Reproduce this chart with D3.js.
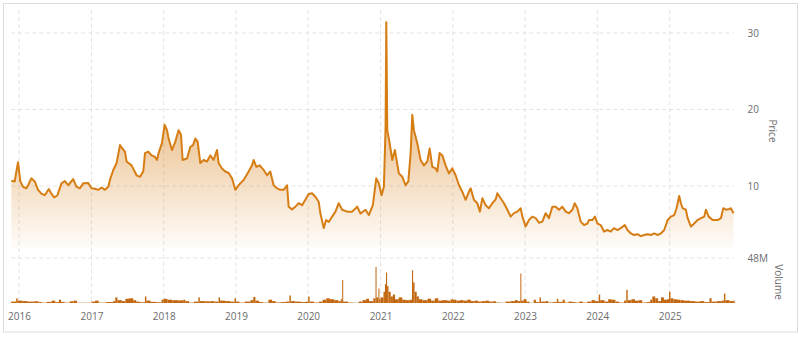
<!DOCTYPE html>
<html>
<head>
<meta charset="utf-8">
<script src="https://cdn.jsdelivr.net/npm/d3@7"></script>
<style>
  html, body { margin: 0; padding: 0; background: #fff; }
  svg { display: block; font-family: "Open Sans", sans-serif; }
</style>
</head>
<body>
<div id="chart"></div>
<script>
// --- data (times are decimal years) ----------------------------------------
const priceYears = [
  2015.893, 2015.940, 2015.986, 2016.018, 2016.055, 2016.101, 2016.125, 2016.170, 2016.217, 2016.263,
  2016.309, 2016.356, 2016.411, 2016.447, 2016.485, 2016.530, 2016.586, 2016.633, 2016.679, 2016.748,
  2016.794, 2016.841, 2016.886, 2016.956, 2017.001, 2017.048, 2017.094, 2017.140, 2017.187, 2017.233,
  2017.256, 2017.302, 2017.348, 2017.395, 2017.427, 2017.464, 2017.486, 2017.555, 2017.625, 2017.672,
  2017.717, 2017.741, 2017.787, 2017.832, 2017.880, 2017.907, 2017.929, 2017.976, 2018.012, 2018.046,
  2018.068, 2018.115, 2018.161, 2018.206, 2018.240, 2018.262, 2018.323, 2018.368, 2018.406, 2018.438,
  2018.470, 2018.507, 2018.553, 2018.600, 2018.645, 2018.691, 2018.738, 2018.760, 2018.807, 2018.853,
  2018.899, 2018.946, 2018.992, 2019.037, 2019.107, 2019.176, 2019.223, 2019.245, 2019.283, 2019.328,
  2019.384, 2019.431, 2019.476, 2019.522, 2019.569, 2019.615, 2019.661, 2019.708, 2019.730, 2019.777,
  2019.823, 2019.868, 2019.916, 2019.961, 2020.007, 2020.054, 2020.100, 2020.145, 2020.169, 2020.215,
  2020.248, 2020.284, 2020.331, 2020.377, 2020.422, 2020.470, 2020.539, 2020.608, 2020.677, 2020.723,
  2020.792, 2020.838, 2020.893, 2020.940, 2020.976, 2021.014, 2021.046, 2021.069, 2021.079, 2021.093,
  2021.115, 2021.162, 2021.198, 2021.253, 2021.301, 2021.346, 2021.384, 2021.416, 2021.439, 2021.461,
  2021.508, 2021.554, 2021.600, 2021.647, 2021.679, 2021.716, 2021.762, 2021.785, 2021.817, 2021.855,
  2021.900, 2021.946, 2021.993, 2022.039, 2022.085, 2022.132, 2022.177, 2022.223, 2022.247, 2022.292,
  2022.339, 2022.375, 2022.409, 2022.454, 2022.500, 2022.547, 2022.593, 2022.616, 2022.662, 2022.708,
  2022.755, 2022.801, 2022.846, 2022.893, 2022.939, 2022.963, 2023.008, 2023.054, 2023.101, 2023.147,
  2023.193, 2023.240, 2023.285, 2023.331, 2023.378, 2023.424, 2023.470, 2023.517, 2023.562, 2023.608,
  2023.655, 2023.687, 2023.724, 2023.770, 2023.816, 2023.863, 2023.885, 2023.932, 2023.968, 2024.001,
  2024.047, 2024.093, 2024.140, 2024.186, 2024.231, 2024.278, 2024.324, 2024.380, 2024.417, 2024.463,
  2024.508, 2024.555, 2024.601, 2024.647, 2024.694, 2024.740, 2024.785, 2024.832, 2024.878, 2024.924,
  2024.971, 2025.017, 2025.062, 2025.095, 2025.131, 2025.155, 2025.179, 2025.224, 2025.248, 2025.294,
  2025.339, 2025.386, 2025.432, 2025.478, 2025.501, 2025.539, 2025.594, 2025.663, 2025.709, 2025.741,
  2025.778, 2025.817, 2025.847, 2025.883
];
const priceValues = [
  10.7, 10.6, 13.1, 10.6, 9.9, 9.7, 10.1, 11.0, 10.6, 9.5,
  9.0, 8.8, 9.6, 9.0, 8.5, 8.8, 10.35, 10.65, 10.1, 10.9,
  9.9, 9.7, 10.35, 10.4, 9.7, 9.65, 9.5, 9.8, 9.5, 9.9,
  10.8, 12.1, 13.0, 15.35, 14.9, 14.5, 13.2, 12.7, 11.4, 11.2,
  11.9, 14.3, 14.5, 14.0, 13.8, 13.4, 14.3, 15.6, 18.0, 17.3,
  16.2, 14.7, 15.8, 17.3, 16.7, 13.4, 13.6, 15.1, 15.35, 16.2,
  15.8, 13.0, 13.4, 13.2, 14.0, 13.4, 14.7, 13.0, 12.3, 11.9,
  11.7, 11.0, 9.5, 10.1, 10.8, 11.9, 12.7, 13.4, 12.5, 12.7,
  12.1, 11.4, 11.9, 10.1, 9.7, 9.5, 9.5, 10.1, 7.3, 6.95,
  7.3, 7.75, 7.5, 8.2, 8.95, 9.05, 8.6, 7.95, 6.4, 4.5,
  5.55, 5.3, 6.0, 6.65, 7.75, 6.9, 6.65, 6.65, 7.3, 6.4,
  6.9, 6.2, 7.5, 11.0, 10.35, 8.8, 9.9, 17.75, 31.4, 17.3,
  16.2, 13.4, 14.7, 11.65, 11.2, 10.1, 10.6, 14.3, 19.3, 17.3,
  15.6, 13.4, 12.7, 13.2, 14.9, 12.5, 12.3, 11.9, 14.3, 14.0,
  12.7, 11.65, 12.3, 11.4, 10.1, 9.25, 8.2, 9.25, 9.7, 8.2,
  7.75, 6.65, 8.4, 7.5, 7.1, 7.75, 8.25, 9.05, 8.4, 7.75,
  6.9, 6.0, 6.45, 6.65, 7.1, 6.0, 4.7, 5.55, 6.0, 5.8,
  5.2, 5.35, 6.45, 5.8, 7.3, 7.3, 6.9, 7.3, 6.65, 6.45,
  6.9, 7.75, 7.1, 5.35, 4.9, 5.1, 5.55, 5.55, 6.0, 5.1,
  4.9, 4.05, 4.25, 4.05, 4.5, 4.25, 4.5, 4.9, 4.25, 3.8,
  3.6, 3.7, 3.45, 3.6, 3.7, 3.6, 3.8, 3.6, 3.8, 4.25,
  5.55, 6.0, 6.2, 7.1, 8.7, 7.75, 7.1, 6.9, 5.8, 4.7,
  5.1, 5.55, 5.8, 6.0, 6.9, 6.0, 5.55, 5.55, 5.8, 7.1,
  6.9, 6.95, 7.1, 6.45
];

const volumeYears = [
  2015.89, 2015.96, 2015.98, 2016.05, 2016.12, 2016.20, 2016.27, 2016.32, 2016.38, 2016.45,
  2016.50, 2016.55, 2016.58, 2016.63, 2016.70, 2016.75, 2016.80, 2016.90, 2017.00, 2017.05,
  2017.10, 2017.20, 2017.30, 2017.33, 2017.36, 2017.42, 2017.47, 2017.52, 2017.58, 2017.62,
  2017.67, 2017.74, 2017.76, 2017.82, 2017.90, 2017.97, 2018.00, 2018.05, 2018.12, 2018.20,
  2018.27, 2018.30, 2018.35, 2018.42, 2018.48, 2018.50, 2018.58, 2018.65, 2018.70, 2018.76,
  2018.78, 2018.85, 2018.92, 2018.98, 2019.00, 2019.05, 2019.12, 2019.20, 2019.24, 2019.27,
  2019.32, 2019.38, 2019.45, 2019.50, 2019.55, 2019.62, 2019.69, 2019.74, 2019.76, 2019.82,
  2019.90, 2019.97, 2020.00, 2020.02, 2020.08, 2020.15, 2020.20, 2020.25, 2020.30, 2020.36,
  2020.42, 2020.45, 2020.47, 2020.48, 2020.55, 2020.62, 2020.70, 2020.75, 2020.80, 2020.84,
  2020.90, 2020.93, 2020.94, 2020.97, 2020.98, 2021.00, 2021.04, 2021.06, 2021.075, 2021.09,
  2021.11, 2021.14, 2021.17, 2021.20, 2021.25, 2021.30, 2021.35, 2021.40, 2021.435, 2021.45,
  2021.47, 2021.50, 2021.53, 2021.58, 2021.65, 2021.70, 2021.75, 2021.80, 2021.85, 2021.92,
  2021.97, 2022.00, 2022.05, 2022.10, 2022.15, 2022.20, 2022.25, 2022.30, 2022.35, 2022.40,
  2022.45, 2022.50, 2022.55, 2022.60, 2022.67, 2022.73, 2022.80, 2022.86, 2022.90, 2022.935,
  2022.945, 2022.98, 2023.02, 2023.06, 2023.12, 2023.15, 2023.20, 2023.22, 2023.28, 2023.32,
  2023.38, 2023.44, 2023.46, 2023.52, 2023.55, 2023.60, 2023.65, 2023.70, 2023.75, 2023.80,
  2023.86, 2023.92, 2023.97, 2024.02, 2024.04, 2024.10, 2024.15, 2024.20, 2024.25, 2024.30,
  2024.37, 2024.40, 2024.42, 2024.47, 2024.52, 2024.57, 2024.62, 2024.68, 2024.73, 2024.76,
  2024.80, 2024.84, 2024.88, 2024.92, 2024.96, 2024.99, 2025.01, 2025.05, 2025.10, 2025.15,
  2025.20, 2025.28, 2025.35, 2025.42, 2025.48, 2025.55, 2025.58, 2025.65, 2025.72, 2025.75,
  2025.77, 2025.83, 2025.88
];
const volumeMillions = [
  1.5, 5.0, 2.5, 2.0, 1.5, 1.8, 1.0, 0.4, 1.2, 2.5,
  1.0, 3.5, 1.2, 0.4, 1.8, 2.5, 0.3, 0.3, 1.5, 2.5,
  0.4, 1.0, 2.0, 6.0, 3.0, 2.0, 4.5, 5.0, 3.0, 1.5,
  0.8, 7.0, 2.5, 1.2, 0.8, 3.5, 4.5, 3.5, 3.0, 2.8,
  3.5, 2.0, 0.5, 1.5, 6.0, 2.0, 1.8, 2.0, 1.5, 6.0,
  2.5, 2.0, 1.5, 5.0, 1.5, 0.4, 1.5, 3.0, 6.5, 2.5,
  1.0, 0.4, 3.5, 2.0, 0.6, 1.0, 1.5, 8.0, 2.0, 1.5,
  1.0, 1.5, 7.0, 1.5, 0.5, 1.5, 3.5, 5.0, 4.0, 3.0,
  2.0, 4.0, 24.5, 1.5, 0.5, 0.3, 1.5, 3.0, 4.5, 2.0,
  5.0, 38.5, 6.0, 15.5, 4.0, 6.0, 12.0, 20.0, 32.5, 18.0,
  12.0, 7.0, 9.0, 4.0, 6.0, 3.5, 3.0, 3.5, 35.0, 22.0,
  12.0, 7.0, 4.0, 3.0, 4.5, 2.5, 5.0, 2.5, 3.0, 2.5,
  4.0, 3.5, 2.5, 3.0, 2.5, 3.5, 2.0, 2.5, 1.5, 2.0,
  2.5, 1.5, 1.8, 0.5, 0.3, 1.5, 2.0, 3.0, 2.0, 31.5,
  2.5, 4.0, 1.5, 0.3, 3.5, 1.0, 6.0, 1.5, 2.0, 0.6,
  1.0, 4.5, 1.2, 3.5, 0.5, 1.5, 1.0, 0.5, 1.5, 0.4,
  1.5, 3.0, 2.0, 9.0, 3.0, 1.5, 4.0, 3.5, 1.5, 0.5,
  2.5, 14.0, 3.0, 4.0, 2.5, 3.0, 0.5, 1.0, 3.5, 7.0,
  5.0, 2.0, 6.0, 3.5, 4.0, 12.0, 5.0, 4.0, 3.5, 3.0,
  2.5, 2.0, 1.5, 2.0, 1.0, 5.0, 1.5, 2.0, 2.5, 10.0,
  3.0, 2.0, 2.5
];

const priceTicks = [10, 20, 30];
const volumeTicks = [48];

// --- helpers ----------------------------------------------------------------
function toDate(t) {
    const y = Math.floor(t);
    const a = new Date(y, 0, 1), b = new Date(y + 1, 0, 1);
    return new Date(+a + (t - y) * (b - a));
}

const prices  = priceYears.map((t, i) => ({ date: toDate(t), value: priceValues[i] }));
const volumes = volumeYears.map((t, i) => ({ date: toDate(t), value: volumeMillions[i] }));

// --- layout -------------------------------------------------------------------
const width = 800, height = 337;
const plotLeft = 11.3, plotRight = 733.5;
const priceTop = 10, priceBottom = 248;
const volTop = 258, volBottom = 303;

const lineColor = "#d67d14";
const volColor  = "#c2670f";
const gridColor = "#e3e3e3";
const textColor = "#6b6b6b";

const svg = d3.select("#chart")
    .append("svg")
        .attr("width", width)
        .attr("height", height)
        .attr("viewBox", `0 0 ${width} ${height}`);

svg.append("rect")
    .attr("x", 3.5).attr("y", 3.5)
    .attr("width", 794).attr("height", 328.5)
    .attr("fill", "none")
    .attr("stroke", "#dcdcdc");

const x = d3.scaleTime()
    .domain(d3.extent(prices, d => d.date))
    .range([plotLeft, plotRight]);

const yPrice = d3.scaleLinear()
    .domain([1.9, 33])
    .range([priceBottom, priceTop]);

const yVol = d3.scaleLinear()
    .domain([0, 48])
    .range([volBottom, volTop]);

// gradient under the price line
const defs = svg.append("defs");
const grad = defs.append("linearGradient")
    .attr("id", "priceFill")
    .attr("gradientUnits", "userSpaceOnUse")
    .attr("x1", 0).attr("x2", 0)
    .attr("y1", priceTop).attr("y2", 255);
grad.append("stop").attr("offset", "0%")
    .attr("stop-color", lineColor).attr("stop-opacity", 0.85);
grad.append("stop").attr("offset", "100%")
    .attr("stop-color", lineColor).attr("stop-opacity", 0);

// --- grid ---------------------------------------------------------------------
const years = x.ticks(d3.timeYear.every(1));

svg.append("g")
    .selectAll("line")
    .data(years)
    .join("line")
        .attr("x1", d => x(d)).attr("x2", d => x(d))
        .attr("y1", priceTop).attr("y2", volBottom)
        .attr("stroke", gridColor)
        .attr("stroke-dasharray", "4,3");

svg.append("g")
    .selectAll("line")
    .data(priceTicks.map(yPrice).concat(volumeTicks.map(yVol)))
    .join("line")
        .attr("x1", plotLeft).attr("x2", plotRight)
        .attr("y1", d => d).attr("y2", d => d)
        .attr("stroke", gridColor)
        .attr("stroke-dasharray", "4,3");

// --- price area + line ------------------------------------------------------
svg.append("path")
    .datum(prices)
    .attr("fill", "url(#priceFill)")
    .attr("d", d3.area()
        .x(d => x(d.date))
        .y0(priceBottom)
        .y1(d => yPrice(d.value)));

svg.append("path")
    .datum(prices)
    .attr("fill", "none")
    .attr("stroke", lineColor)
    .attr("stroke-width", 2)
    .attr("stroke-linejoin", "round")
    .attr("d", d3.line()
        .x(d => x(d.date))
        .y(d => yPrice(d.value)));

// --- volume bars --------------------------------------------------------------
svg.append("g")
    .selectAll("rect")
    .data(volumes)
    .join("rect")
        .attr("x", d => x(d.date))
        .attr("width", (d, i) => i < volumes.length - 1
            ? Math.max(1, x(volumes[i + 1].date) - x(d.date)) : 1.5)
        .attr("y", d => yVol(d.value))
        .attr("height", d => volBottom - yVol(d.value))
        .attr("fill", volColor);

// --- axes ---------------------------------------------------------------------
const xAxis = svg.append("g")
    .attr("transform", `translate(0, ${309.5})`)
    .call(d3.axisBottom(x)
        .tickValues(years)
        .tickFormat(d3.timeFormat("%Y"))
        .tickSize(0)
        .tickPadding(3));

const priceAxis = svg.append("g")
    .attr("transform", "translate(747.5, 0)")
    .call(d3.axisRight(yPrice).tickValues(priceTicks).tickSize(0).tickPadding(0));

const volAxis = svg.append("g")
    .attr("transform", "translate(747.5, 0)")
    .call(d3.axisRight(yVol).tickValues(volumeTicks)
        .tickFormat(d => d + "M").tickSize(0).tickPadding(0));

[xAxis, priceAxis, volAxis].forEach(g => {
    g.select(".domain").remove();
    g.selectAll("text")
        .attr("fill", textColor)
        .style("font-family", "'Open Sans', sans-serif")
        .style("font-size", "10px");
});

svg.append("text")
    .attr("transform", "translate(772, 131) rotate(90)")
    .attr("text-anchor", "middle")
    .attr("dy", "0.35em")
    .attr("fill", textColor)
    .style("font-size", "10px")
    .text("Price");

svg.append("text")
    .attr("transform", "translate(778.5, 282) rotate(90)")
    .attr("text-anchor", "middle")
    .attr("dy", "0.35em")
    .attr("fill", textColor)
    .style("font-size", "10px")
    .text("Volume");
</script>
</body>
</html>
